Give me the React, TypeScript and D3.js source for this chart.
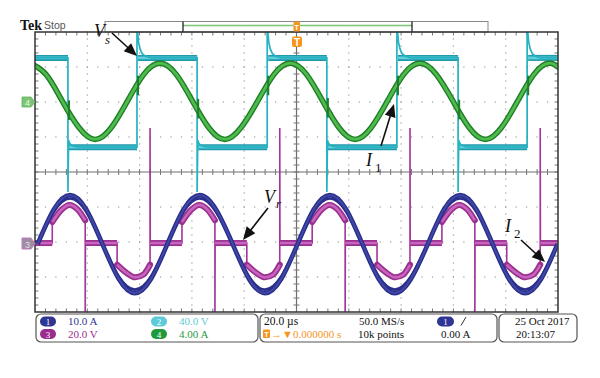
import React from "react";
import * as d3 from "d3";

// ---- Data (time in divisions 0..10, amplitude in divisions -4..4) ----
// Channel 1 (blue, I2 current) samples
const blueT = [0.05, 0.36, 0.67, 0.98, 1.29, 1.6, 1.91, 2.22, 2.53, 2.84, 3.15, 3.46, 3.78, 4.09, 4.4, 4.71, 5.02, 5.33, 5.64, 5.95, 6.26, 6.57, 6.88, 7.19, 7.51, 7.82, 8.13, 8.44, 8.75, 9.06, 9.37, 9.68, 9.99];
const blueV = [-2.06, -1.07, -0.66, -1.07, -2.06, -3.05, -3.46, -3.05, -2.06, -1.07, -0.66, -1.07, -2.06, -3.05, -3.46, -3.05, -2.06, -1.07, -0.66, -1.07, -2.06, -3.05, -3.46, -3.05, -2.06, -1.07, -0.66, -1.07, -2.06, -3.05, -3.46, -3.05, -2.06];

// Channel 4 (green, I1 current)
const greenT = [-0.1, 0.21, 0.52, 0.84, 1.15, 1.46, 1.77, 2.08, 2.39, 2.7, 3.01, 3.32, 3.63, 3.94, 4.26, 4.57, 4.88, 5.19, 5.5, 5.81, 6.12, 6.43, 6.74, 7.05, 7.36, 7.67, 7.99, 8.3, 8.61, 8.92, 9.23, 9.54, 9.85, 10.16];
const greenV = [3.11, 2.79, 2.03, 1.27, 0.93, 1.27, 2.03, 2.79, 3.11, 2.79, 2.03, 1.27, 0.93, 1.27, 2.03, 2.79, 3.11, 2.79, 2.03, 1.27, 0.93, 1.27, 2.03, 2.79, 3.11, 2.79, 2.03, 1.27, 0.93, 1.27, 2.03, 2.79, 3.11, 2.79];

// Channel 2 (cyan, Vs square wave)
const cyanHigh = 3.26;
const cyanLow = 0.71;
const cyanFall = [0.63, 3.1, 5.58, 8.09];
const cyanRise = [1.95, 4.44, 6.92, 9.41];
const cyanRiseSpike = 4.3;
const cyanFallSpike = -0.57;
const cyanRiseDt = [0.012, 0.03, 0.06, 0.1, 0.16, 0.26];
const cyanRiseOv = [0.75, 0.45, 0.25, 0.12, 0.05, 0];
const cyanFallDt = [0.012, 0.03, 0.06, 0.12, 0.22];
const cyanFallOv = [0.2, 0.12, 0.06, 0.02, 0];

// Channel 3 (magenta, Vr stepped wave)
const magZero = -2.03;
const magPosStart = [0.33, 2.81, 5.3, 7.78];
const magPosEnd = [0.96, 3.44, 5.93, 8.41];
const magNegStart = [1.57, 4.05, 6.54, 9.02];
const magNegEnd = [2.2, 4.68, 7.17, 9.66];
const magPosFrac = [0, 0.28, 0.52, 0.78, 1];
const magPosShape = [0.6, 0.95, 1.09, 0.95, 0.65];
const magNegFrac = [0, 0.3, 0.55, 0.8, 1];
const magNegShape = [-0.62, -0.86, -0.98, -0.9, -0.62];
const magDownSpike = -4.5;
const magUpSpike = 1.26;

// Labels
const panelCh = [
  { n: "1", txt: "10.0 A", col: "#2e3592", row: 0, colIdx: 0 },
  { n: "2", txt: "40.0 V", col: "#5ccad8", row: 0, colIdx: 1 },
  { n: "3", txt: "20.0 V", col: "#9b2c8f", row: 1, colIdx: 0 },
  { n: "4", txt: "4.00 A", col: "#1f9a3c", row: 1, colIdx: 1 },
];

const W = 600, H = 378;
const L = 35, R = 558, T = 32, B = 312;
const ROW1 = 325, ROW2 = 337.5;

const x = d3.scaleLinear().domain([0, 10]).range([L, R]);
const y = d3.scaleLinear().domain([-4, 4]).range([B, T]);

type P = [number, number];

function arrowHead(x1: number, y1: number, x2: number, y2: number, len = 13, wid = 5.5) {
  const a = Math.atan2(y2 - y1, x2 - x1);
  const bx = x2 - len * Math.cos(a), by = y2 - len * Math.sin(a);
  const px = -Math.sin(a) * wid, py = Math.cos(a) * wid;
  return `${x2},${y2} ${bx + px},${by + py} ${bx - px},${by - py}`;
}

export default function App() {
  const lineLin = d3.line<P>().x((d) => x(d[0])).y((d) => y(d[1]));
  const lineSmooth = d3.line<P>().x((d) => x(d[0])).y((d) => y(d[1])).curve(d3.curveNatural);
  const lineMono = d3.line<P>().x((d) => x(d[0])).y((d) => y(d[1])).curve(d3.curveMonotoneX);

  // ---- grid ----
  const dots: JSX.Element[] = [];
  for (let i = 1; i < 10; i++) {
    if (i === 5) continue;
    for (let j = 0; j <= 40; j++) {
      dots.push(<rect key={`v${i}-${j}`} x={x(i) - 0.6} y={y(-4 + j * 0.2) - 0.6} width={1.2} height={1.2} fill="#9c9c9c" />);
    }
  }
  for (let k = -3; k <= 3; k++) {
    if (k === 0) continue;
    for (let j = 0; j <= 50; j++) {
      dots.push(<rect key={`h${k}-${j}`} x={x(j * 0.2) - 0.6} y={y(k) - 0.6} width={1.2} height={1.2} fill="#9c9c9c" />);
    }
  }
  const ticks: JSX.Element[] = [];
  for (let j = 1; j < 50; j++) {
    const xx = x(j * 0.2);
    ticks.push(<line key={`tc${j}`} x1={xx} x2={xx} y1={y(0) - 3} y2={y(0) + 3} stroke="#777" strokeWidth={1} />);
    ticks.push(<line key={`tt${j}`} x1={xx} x2={xx} y1={T} y2={T + 3.5} stroke="#777" strokeWidth={1} />);
    ticks.push(<line key={`tb${j}`} x1={xx} x2={xx} y1={B} y2={B - 3.5} stroke="#777" strokeWidth={1} />);
  }
  for (let j = 1; j < 40; j++) {
    const yy = y(-4 + j * 0.2);
    ticks.push(<line key={`vc${j}`} y1={yy} y2={yy} x1={x(5) - 3} x2={x(5) + 3} stroke="#777" strokeWidth={1} />);
    ticks.push(<line key={`vl${j}`} y1={yy} y2={yy} x1={L} x2={L + 3.5} stroke="#777" strokeWidth={1} />);
    ticks.push(<line key={`vr${j}`} y1={yy} y2={yy} x1={R} x2={R - 3.5} stroke="#777" strokeWidth={1} />);
  }

  // ---- cyan ----
  const edges = [
    ...cyanFall.map((t) => ({ t, k: "f" })),
    ...cyanRise.map((t) => ({ t, k: "r" })),
  ].sort((a, b) => a.t - b.t);
  const cyanPts: P[] = [[0, cyanHigh]];
  const cyanSegs: P[][] = [];
  let segStart = 0;
  let level = cyanHigh;
  edges.forEach((e) => {
    cyanSegs.push([[segStart, level], [e.t, level]]);
    if (e.k === "f") {
      cyanPts.push([e.t, cyanHigh], [e.t, cyanFallSpike]);
      cyanFallDt.forEach((dt, i) => cyanPts.push([e.t + dt, cyanLow + cyanFallOv[i]]));
      level = cyanLow;
    } else {
      cyanPts.push([e.t, cyanLow], [e.t, cyanRiseSpike]);
      cyanRiseDt.forEach((dt, i) => cyanPts.push([e.t + dt, cyanHigh + cyanRiseOv[i]]));
      level = cyanHigh;
    }
    segStart = e.t + 0.02;
  });
  cyanPts.push([10, level]);
  cyanSegs.push([[segStart, level], [10, level]]);

  // ---- green ----
  const greenPts: P[] = greenT.map((t, i) => [t, greenV[i]]);
  const greenAt = d3.scaleLinear().domain(greenT).range(greenV);
  const glitches = [...cyanFall, ...cyanRise];

  // ---- blue ----
  const bluePts: P[] = blueT.map((t, i) => [t, blueV[i]]);
  const blueInner: P[] = blueT.map((t, i) => [t, magZero + (blueV[i] - magZero) * 0.93]);

  // ---- magenta ----
  const wins = [
    ...magPosStart.map((s, i) => ({ s, e: magPosEnd[i], fr: magPosFrac, sh: magPosShape, sp: magDownSpike })),
    ...magNegStart.map((s, i) => ({ s, e: magNegEnd[i], fr: magNegFrac, sh: magNegShape, sp: magUpSpike })),
  ].sort((a, b) => a.s - b.s);
  const magPts: P[] = [[0, magZero]];
  const magZeroSegs: P[][] = [];
  const magWinSegs: P[][] = [];
  let zs = 0;
  wins.forEach((w) => {
    magZeroSegs.push([[zs, magZero], [w.s, magZero]]);
    const seg: P[] = w.fr.map((f, i) => [w.s + f * (w.e - w.s), magZero + w.sh[i]]);
    magWinSegs.push(seg);
    magPts.push([w.s, magZero], ...seg, [w.e, w.sp], [w.e + 0.004, magZero]);
    zs = w.e + 0.004;
  });
  magPts.push([10, magZero]);
  magZeroSegs.push([[zs, magZero], [10, magZero]]);

  const serif = "'Liberation Serif', 'DejaVu Serif', serif";
  const sans = "'Liberation Sans', Arial, sans-serif";

  return (
    <svg width={W} height={H} style={{ position: "absolute", left: 0, top: 0, background: "#fff" }} xmlns="http://www.w3.org/2000/svg">
      <rect width={W} height={H} fill="#fff" />
      <defs>
        <clipPath id="plot">
          <rect x={L} y={T} width={R - L} height={B - T} />
        </clipPath>
      </defs>

      {/* header */}
      <text x={20} y={30} fontFamily={serif} fontWeight="bold" fontSize={14} fill="#111">Tek</text>
      <text x={44} y={29} fontFamily={sans} fontSize={10.5} fill="#555">Stop</text>
      <rect x={105} y={21.5} width={383} height={10.5} fill="#fff" stroke="#888" strokeWidth={1} />
      <line x1={183} x2={412} y1={25.5} y2={25.5} stroke="#7cc576" strokeWidth={1.6} />
      <line x1={183} x2={183} y1={21.5} y2={32} stroke="#111" strokeWidth={1.2} />
      <line x1={412} x2={412} y1={21.5} y2={32} stroke="#111" strokeWidth={1.2} />

      {/* grid */}
      <g>{dots}</g>
      <line x1={L} x2={R} y1={y(0)} y2={y(0)} stroke="#6e6e6e" strokeWidth={1.2} />
      <line x1={x(5)} x2={x(5)} y1={T} y2={B} stroke="#6e6e6e" strokeWidth={1.2} />
      <g>{ticks}</g>

      <g clipPath="url(#plot)">
        {/* magenta */}
        <path d={lineLin(magPts) || ""} fill="none" stroke="#a2369a" strokeWidth={1.6} />
        {magZeroSegs.map((s, i) => (
          <g key={`mz${i}`}>
            <path d={lineLin(s) || ""} fill="none" stroke="#9a2f90" strokeWidth={6} />
            <path d={lineLin(s) || ""} fill="none" stroke="#c765bd" strokeWidth={2.6} />
          </g>
        ))}
        {magWinSegs.map((s, i) => (
          <g key={`mw${i}`}>
            <path d={lineMono(s) || ""} fill="none" stroke="#9a2f90" strokeWidth={6} strokeLinecap="round" />
            <path d={lineMono(s) || ""} fill="none" stroke="#c765bd" strokeWidth={2.6} />
          </g>
        ))}

        {/* blue */}
        <path d={lineSmooth(bluePts) || ""} fill="none" stroke="#2b2f8c" strokeWidth={4.6} />
        <path d={lineSmooth(blueInner) || ""} fill="none" stroke="#2b2f8c" strokeWidth={2.6} />
        <path d={lineSmooth(bluePts) || ""} fill="none" stroke="#4149a6" strokeWidth={1.8} />

        {/* cyan */}
        {cyanSegs.map((s, i) => (
          <g key={`cs${i}`}>
            <path d={lineLin(s) || ""} fill="none" stroke="#1d9aab" strokeWidth={6} />
            <path d={lineLin(s) || ""} fill="none" stroke="#62d0dc" strokeWidth={2.8} />
          </g>
        ))}
        <path d={lineLin(cyanPts) || ""} fill="none" stroke="#25b2c2" strokeWidth={1.7} />

        {/* green */}
        <path d={lineSmooth(greenPts) || ""} fill="none" stroke="#1f7d2a" strokeWidth={5.6} />
        <path d={lineSmooth(greenPts) || ""} fill="none" stroke="#4fbb4a" strokeWidth={2.8} />
        {glitches.map((t, i) => (
          <line key={`g${i}`} x1={x(t + 0.02)} x2={x(t + 0.02)} y1={y(greenAt(t) + 0.28)} y2={y(greenAt(t) - 0.28)} stroke="#1f7d2a" strokeWidth={2} />
        ))}
      </g>

      {/* border */}
      <rect x={L} y={T} width={R - L} height={B - T} fill="none" stroke="#333" strokeWidth={1.5} />

      {/* trigger markers */}
      <rect x={293.5} y={21.5} width={6.5} height={10} rx={1.5} fill="#f7941d" />
      <text x={296.75} y={30} textAnchor="middle" fontFamily={sans} fontWeight="bold" fontSize={8} fill="#fff">T</text>
      <rect x={292} y={36.5} width={10} height={10.5} rx={2} fill="#f7941d" />
      <text x={297} y={45.5} textAnchor="middle" fontFamily={sans} fontWeight="bold" fontSize={10} fill="#fff">T</text>

      {/* channel markers */}
      <polygon points={`22,97 31,97 35,102 31,107 22,107`} fill="#7cc576" stroke="#62b45b" strokeWidth={0.8} strokeLinejoin="round" />
      <text x={27.5} y={105.5} textAnchor="middle" fontFamily={sans} fontSize={9} fill="#eaf6e8">4</text>
      <polygon points={`22,238 31,238 35,243.5 31,249 22,249`} fill="#9c8ea2" stroke="#c17cc0" strokeWidth={1} strokeLinejoin="round" />
      <text x={27.5} y={247.5} textAnchor="middle" fontFamily={sans} fontSize={9} fill="#f0d6ee">3</text>

      {/* annotations */}
      <g fontFamily={serif} fontStyle="italic" fill="#111">
        <text x={94} y={37} fontSize={18}>V</text>
        <text x={105} y={44} fontSize={13}>s</text>
        <text x={366} y={166} fontSize={18}>I</text>
        <text x={375} y={172} fontSize={13} fontStyle="normal">1</text>
        <text x={264} y={203} fontSize={18}>V</text>
        <text x={276} y={208} fontSize={13}>r</text>
        <text x={505} y={232} fontSize={18}>I</text>
        <text x={514} y={238} fontSize={13} fontStyle="normal">2</text>
      </g>
      {[
        [112, 33, 137, 56],
        [381, 146, 394, 104],
        [268, 208, 243, 240],
        [521, 240, 545, 262],
      ].map(([a, b, c, d], i) => (
        <g key={`ar${i}`}>
          <line x1={a} y1={b} x2={c - (c - a) * 0.25} y2={d - (d - b) * 0.25} stroke="#111" strokeWidth={1.6} />
          <polygon points={arrowHead(a, b, c, d)} fill="#111" />
        </g>
      ))}

      {/* bottom panels */}
      <rect x={36} y={314} width={222} height={28} rx={5} fill="#fff" stroke="#555" strokeWidth={1.2} />
      {panelCh.map((c) => {
        const px = c.colIdx === 0 ? 40 : 151;
        const by = c.row === 0 ? ROW1 : ROW2;
        return (
          <g key={c.n}>
            <rect x={px} y={by - 8.5} width={16} height={10} rx={5} fill={c.col} />
            <text x={px + 8} y={by} textAnchor="middle" fontFamily={serif} fontSize={9} fill="#fff">{c.n}</text>
            <text x={px + 28} y={by} fontFamily={serif} fontSize={11} fill={c.col}>{c.txt}</text>
          </g>
        );
      })}

      <rect x={260} y={314} width={237} height={28} rx={5} fill="#fff" stroke="#555" strokeWidth={1.2} />
      <text x={264} y={ROW1} fontFamily={serif} fontSize={11.5} fill="#111">20.0 µs</text>
      <rect x={263} y={ROW2 - 8} width={7} height={8.5} rx={1} fill="#f7941d" />
      <text x={266.5} y={ROW2 - 0.8} textAnchor="middle" fontFamily={sans} fontWeight="bold" fontSize={7.5} fill="#fff">T</text>
      <text x={271} y={ROW2} fontFamily={serif} fontSize={11} fill="#f7941d">→▼0.000000 s</text>
      <text x={359} y={ROW1} fontFamily={serif} fontSize={11} fill="#111">50.0 MS/s</text>
      <text x={358} y={ROW2} fontFamily={serif} fontSize={11} fill="#111">10k points</text>
      <rect x={437} y={ROW1 - 8.5} width={17} height={10} rx={5} fill="#2e3592" />
      <text x={445.5} y={ROW1} textAnchor="middle" fontFamily={serif} fontSize={9} fill="#fff">1</text>
      <line x1={461} y1={ROW1 + 0.5} x2={466} y2={ROW1 - 8} stroke="#333" strokeWidth={1} />
      <text x={441} y={ROW2} fontFamily={serif} fontSize={11} fill="#111">0.00 A</text>

      <rect x={499} y={314} width={78} height={28} rx={5} fill="#fff" stroke="#555" strokeWidth={1.2} />
      <text x={515} y={ROW1} fontFamily={serif} fontSize={11} fill="#111">25 Oct 2017</text>
      <text x={516} y={ROW2} fontFamily={serif} fontSize={11} fill="#111">20:13:07</text>
    </svg>
  );
}
